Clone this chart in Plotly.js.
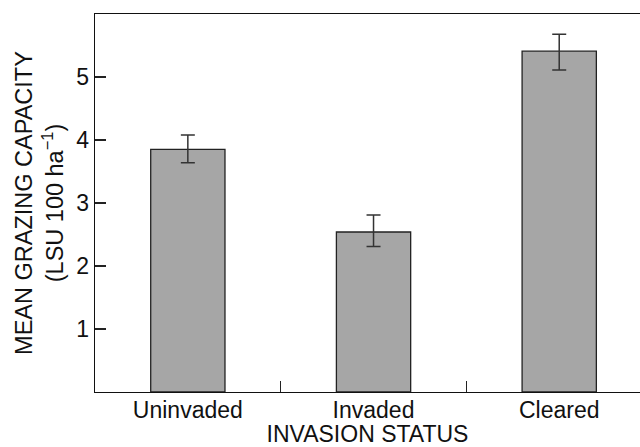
<!DOCTYPE html>
<html>
<head>
<meta charset="utf-8">
<script src="https://cdn.plot.ly/plotly-3.0.1.min.js"></script>
<style>html,body{margin:0;padding:0;background:#fff;}#chart{width:640px;height:447px;}</style>
</head>
<body>
<div id="chart"></div>
<script>
const categories = ["Uninvaded", "Invaded", "Cleared"];
const meanValues = [3.85, 2.54, 5.41];
const errorPlus = [0.23, 0.27, 0.27];
const errorMinus = [0.21, 0.23, 0.30];
const yTickValues = [1, 2, 3, 4, 5];
const yTickLabels = ["1", "2", "3", "4", "5"];

const fontFamily = '"Liberation Sans", Arial, sans-serif';

const trace = {
  type: 'bar',
  x: categories,
  y: meanValues,
  width: 0.4,
  marker: { color: '#a6a6a6', line: { color: '#222', width: 1.3 } },
  error_y: {
    type: 'data', symmetric: false,
    array: errorPlus, arrayminus: errorMinus,
    color: '#333', thickness: 1.5, width: 7
  },
  hoverinfo: 'none'
};

const layout = {
  width: 640, height: 447,
  margin: { l: 95, r: 0, t: 14, b: 55 },
  paper_bgcolor: '#fff', plot_bgcolor: '#fff',
  showlegend: false,
  font: { family: fontFamily, size: 23, color: '#111' },
  xaxis: {
    type: 'category',
    range: [-0.5, 2.435],
    tickson: 'boundaries',
    ticks: 'inside', ticklen: 11, tickwidth: 1.3, tickcolor: '#222',
    showline: true, linecolor: '#111', linewidth: 1.3, mirror: true,
    showgrid: false, zeroline: false,
    ticklabelstandoff: -3,
    tickfont: { size: 23, family: fontFamily, color: '#111' },
    title: { text: 'INVASION STATUS', font: { size: 23, family: fontFamily, color: '#111' }, standoff: 2 },
    automargin: false
  },
  yaxis: {
    range: [0, 6],
    tickvals: yTickValues, ticktext: yTickLabels,
    ticks: 'inside', ticklen: 11, tickwidth: 1.3, tickcolor: '#222',
    showline: true, linecolor: '#111', linewidth: 1.3,
    showgrid: false, zeroline: false,
    tickfont: { size: 23, family: fontFamily, color: '#111' },
    title: { text: 'MEAN GRAZING CAPACITY<br>(LSU 100 ha<sup>−1</sup>)', font: { size: 23.5, family: fontFamily, color: '#111' }, standoff: 6 },
    automargin: false
  }
};

Plotly.newPlot('chart', [trace], layout, { displayModeBar: false, staticPlot: true });
</script>
</body>
</html>
